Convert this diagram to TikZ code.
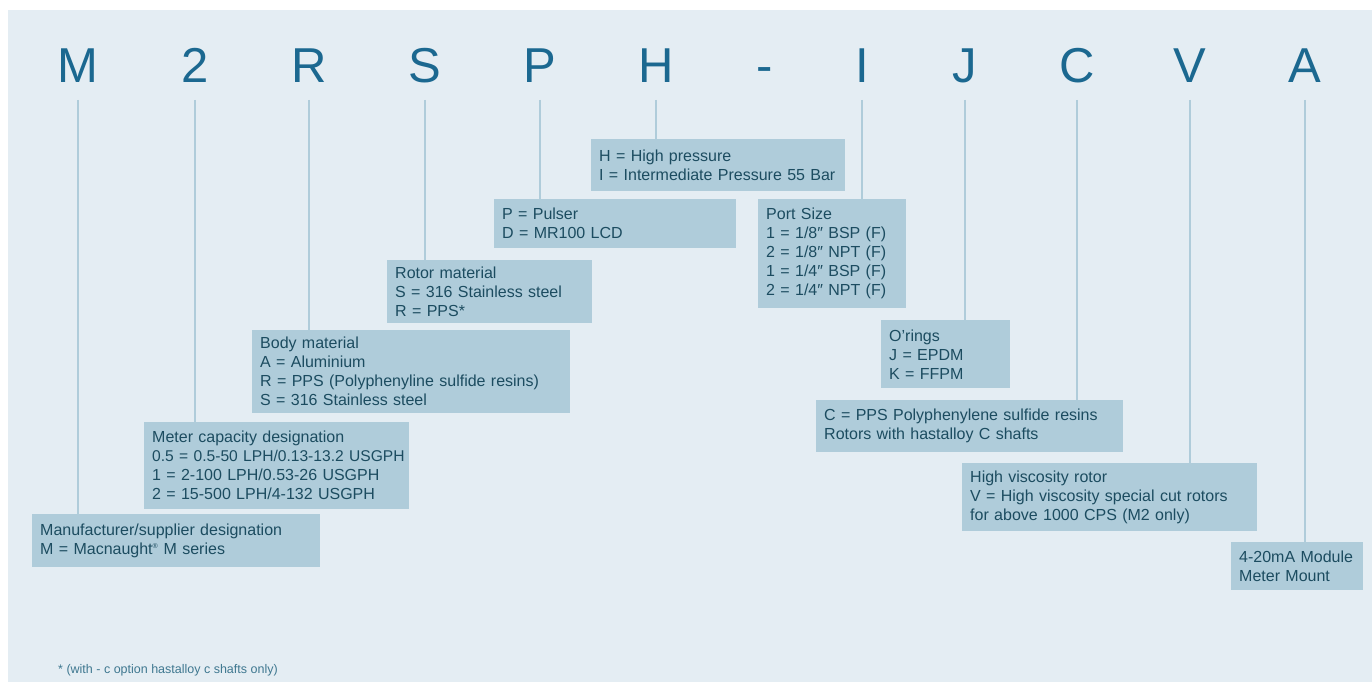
\documentclass[tikz,border=0pt]{standalone}
\usepackage{fontspec}
\setmainfont{Liberation Sans}
\definecolor{panel}{HTML}{E4EDF3}
\definecolor{boxfill}{HTML}{AFCCDA}
\definecolor{boxtext}{HTML}{1C4C60}
\definecolor{lettercol}{HTML}{1B6890}
\definecolor{notecol}{HTML}{3F7890}
\begin{document}
\begin{tikzpicture}[x=1pt,y=-1pt,
  letter/.style={anchor=base,inner sep=0pt,text=lettercol,font=\fontsize{49}{49}\selectfont},
  box/.style={anchor=north west,fill=boxfill,text=boxtext,inner xsep=0pt,inner ysep=0pt,
    font=\fontsize{16}{19}\selectfont,
    execute at begin node={\leftskip=8pt\rightskip=0pt plus 1fil\parfillskip=0pt plus 1fil\hyphenpenalty=10000\parindent=0pt\hfuzz=50pt}},
  conn/.style={draw=boxfill,line width=2pt}]
\useasboundingbox (0,0) rectangle (1372,682);
\fill[white] (0,0) rectangle (1372,682);
\fill[panel] (8,10) rectangle (1372,682);
% letters
\node[letter] (lM) at (78,83) {M};
\node[letter] (l2) at (195,83) {2};
\node[letter] (lR) at (309,83) {R};
\node[letter] (lS) at (425,83) {S};
\node[letter] (lP) at (540,83) {P};
\node[letter] (lH) at (656,83) {H};
\node[letter] (ldash) at (765,83) {-};
\node[letter] (lI) at (862,83) {I};
\node[letter] (lJ) at (965,83) {J};
\node[letter] (lC) at (1077,83) {C};
\node[letter] (lV) at (1190,83) {V};
\node[letter] (lA) at (1305,83) {A};
% boxes
\node[box,text width=288pt,minimum height=53pt] (bM) at (32,514)
  {Manufacturer/supplier designation\\M = Macnaught\textsuperscript{\scriptsize ®} M series};
\node[box,text width=265pt,minimum height=87pt] (b2) at (144,422)
  {Meter capacity designation\\\mbox{\fontsize{15.6}{19}\selectfont 0.5 = 0.5-50 LPH/0.13-13.2 USGPH}\\1 = 2-100 LPH/0.53-26 USGPH\\2 = 15-500 LPH/4-132 USGPH};
\node[box,text width=318pt,minimum height=83pt] (bR) at (252,330)
  {Body material\\A = Aluminium\\R = PPS (Polyphenyline sulfide resins)\\S = 316 Stainless steel};
\node[box,text width=205pt,minimum height=63pt] (bS) at (387,260)
  {Rotor material\\S = 316 Stainless steel\\R = PPS*};
\node[box,text width=242pt,minimum height=49pt] (bP) at (494,199)
  {P = Pulser\\D = MR100 LCD};
\node[box,text width=254pt,minimum height=52pt] (bH) at (591,139)
  {H = High pressure\\\mbox{I = Intermediate Pressure 55 Bar}};
\node[box,text width=148pt,minimum height=109pt] (bI) at (758,199)
  {Port Size\\1 = 1/8″ BSP (F)\\2 = 1/8″ NPT (F)\\1 = 1/4″ BSP (F)\\2 = 1/4″ NPT (F)};
\node[box,text width=129pt,minimum height=68pt] (bJ) at (881,320)
  {O’rings\\J = EPDM\\K = FFPM};
\node[box,text width=307pt,minimum height=52pt] (bC) at (816,400)
  {C = PPS Polyphenylene sulfide resins\\Rotors with hastalloy C shafts};
\node[box,text width=295pt,minimum height=68pt] (bV) at (962,463)
  {High viscosity rotor\\V = High viscosity special cut rotors\\for above 1000 CPS (M2 only)};
\node[box,text width=132pt,minimum height=48pt] (bA) at (1231,542)
  {4-20mA Module\\Meter Mount};
% connectors
\foreach \l/\b in {lM/bM,l2/b2,lR/bR,lS/bS,lP/bP,lH/bH,lI/bI,lJ/bJ,lC/bC,lV/bV,lA/bA}
  \draw[conn] ([yshift=-17pt]\l.base) -- (\l.base |- \b.north);
% footnote
\node[anchor=base west,inner sep=0pt,text=notecol,font=\fontsize{12.5}{14}\selectfont] (note) at (58,673)
  {* (with - c option hastalloy c shafts only)};
\end{tikzpicture}
\end{document}
